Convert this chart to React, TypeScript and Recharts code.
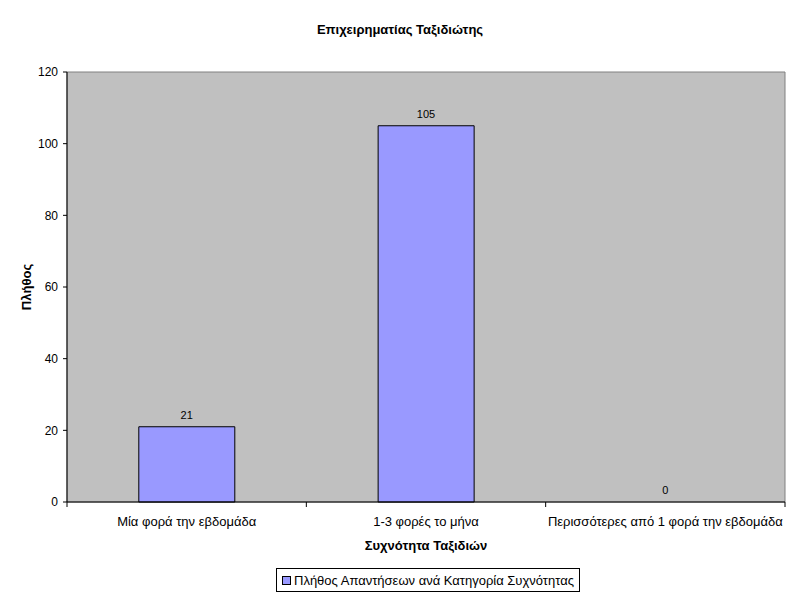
import { ComposedChart, Bar, Line, XAxis, YAxis, ReferenceArea, LabelList } from 'recharts';

// Business traveller survey: responses per travel-frequency category
const categories = [
  'Μία φορά την εβδομάδα',
  '1-3 φορές το μήνα',
  'Περισσότερες από 1 φορά την εβδομάδα',
];
const counts = [21, 105, 0];
const yTicks = [0, 20, 40, 60, 80, 100, 120];

const seriesName = 'Πλήθος Απαντήσεων ανά Κατηγορία Συχνότητας';
const chartTitle = 'Επιχειρηματίας Ταξιδιώτης';
const xTitle = 'Συχνότητα Ταξιδιών';
const yTitle = 'Πλήθος';

const data = categories.map((name, i) => ({ name, value: counts[i] }));

const FONT = '"Liberation Sans", Arial, sans-serif';
const BAR_FILL = '#9999FF';
const TICK_SIZE = 5;
const TICK_GAP = 10;

// Excel style: tick marks sit between categories, not under them
function CategoryTick(props: any) {
  const { x, y, payload, index, visibleTicksCount } = props;
  const half = payload.offset || 0;
  const axisY = y - TICK_SIZE - TICK_GAP;
  const isLast = index === visibleTicksCount - 1;
  return (
    <g>
      <line x1={x - half} x2={x - half} y1={axisY} y2={axisY + TICK_SIZE} stroke="#000" />
      {isLast && (
        <line x1={x + half} x2={x + half} y1={axisY} y2={axisY + TICK_SIZE} stroke="#000" />
      )}
      <text x={x} y={y} dy="0.71em" textAnchor="middle" fontSize={13} fill="#000" fontFamily={FONT}>
        {payload.value}
      </text>
    </g>
  );
}

export default function App() {
  return (
    <div
      style={{
        position: 'absolute',
        left: 0,
        top: 0,
        width: 800,
        height: 600,
        background: '#fff',
        fontFamily: FONT,
      }}
    >
      <div
        style={{
          position: 'absolute',
          top: 22,
          left: 0,
          width: 800,
          textAlign: 'center',
          fontSize: 13,
          lineHeight: '15px',
          fontWeight: 'bold',
        }}
      >
        {chartTitle}
      </div>

      <ComposedChart
        width={800}
        height={600}
        data={data}
        margin={{ top: 72, right: 15, left: 22, bottom: 68 }}
        barCategoryGap="30%"
        style={{ fontFamily: FONT }}
      >
        <ReferenceArea y1={0} y2={120} fill="#C0C0C0" fillOpacity={1} stroke="#808080" strokeWidth={1} />
        <XAxis
          dataKey="name"
          height={30}
          interval={0}
          tickLine={false}
          tickSize={TICK_SIZE}
          tickMargin={TICK_GAP}
          axisLine={{ stroke: '#000' }}
          tick={<CategoryTick />}
        />
        <YAxis
          width={45}
          domain={[0, 120]}
          ticks={yTicks}
          interval={0}
          tickSize={4}
          tickMargin={5}
          axisLine={{ stroke: '#000' }}
          tickLine={{ stroke: '#000' }}
          tick={{ fontSize: 12, fill: '#000' }}
        />
        <Bar dataKey="value" fill={BAR_FILL} stroke="#000" strokeWidth={1} isAnimationActive={false} />
        {/* invisible carrier for the value labels, so the zero bar gets its "0" too */}
        <Line
          dataKey="value"
          stroke="none"
          dot={false}
          activeDot={false}
          legendType="none"
          isAnimationActive={false}
        >
          <LabelList dataKey="value" position="top" offset={8} style={{ fontSize: 11, fill: '#000' }} />
        </Line>
      </ComposedChart>

      <div
        style={{
          position: 'absolute',
          left: 26,
          top: 287,
          transform: 'translate(-50%, -50%) rotate(-90deg)',
          fontSize: 13,
          fontWeight: 'bold',
          whiteSpace: 'nowrap',
        }}
      >
        {yTitle}
      </div>

      <div
        style={{
          position: 'absolute',
          left: 67,
          width: 718,
          top: 538,
          textAlign: 'center',
          fontSize: 13,
          lineHeight: '15px',
          fontWeight: 'bold',
        }}
      >
        {xTitle}
      </div>

      <div
        style={{
          position: 'absolute',
          left: 276,
          top: 568,
          height: 24,
          boxSizing: 'border-box',
          border: '1px solid #000',
          background: '#fff',
          padding: '0 5px 0 5px',
          display: 'flex',
          alignItems: 'center',
          fontSize: 13,
          whiteSpace: 'nowrap',
        }}
      >
        <span
          style={{
            display: 'inline-block',
            width: 7,
            height: 7,
            background: BAR_FILL,
            border: '1px solid #000',
            marginRight: 3,
          }}
        />
        {seriesName}
      </div>
    </div>
  );
}
